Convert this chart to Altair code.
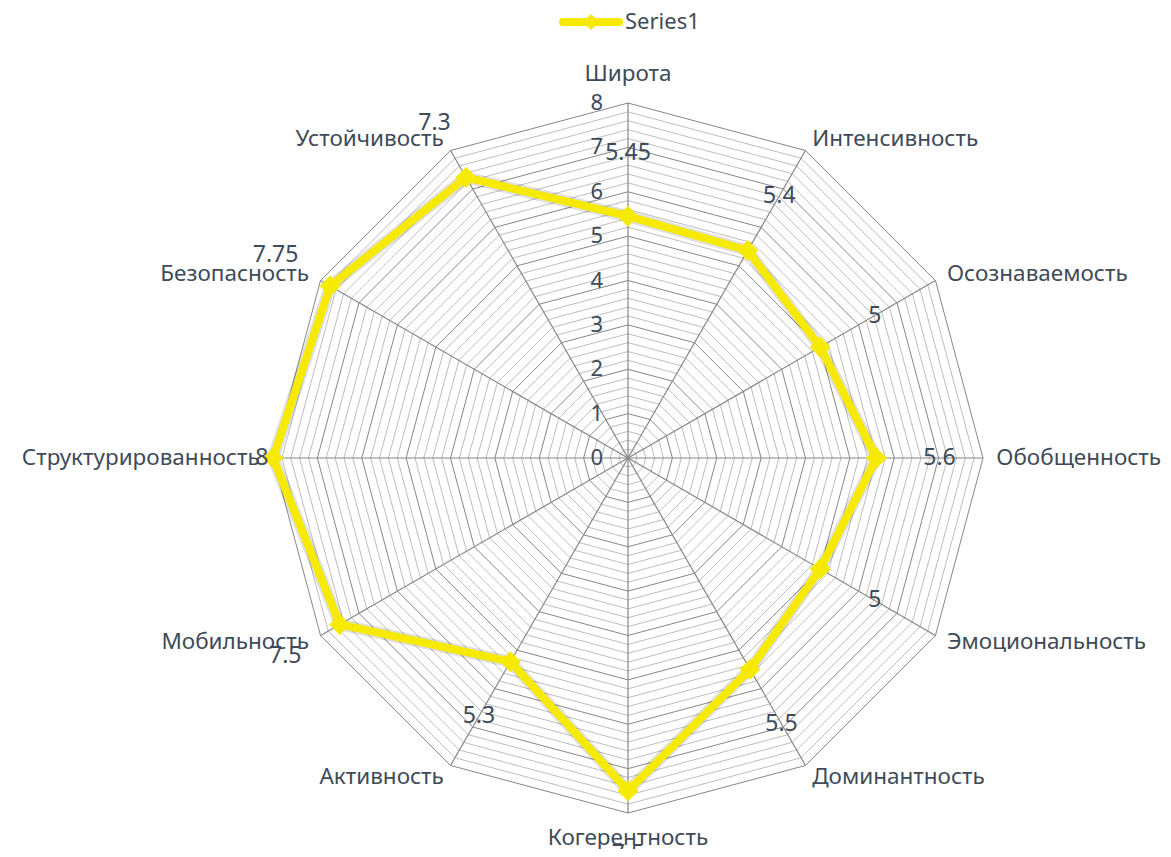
import altair as alt
import pandas as pd
import numpy as np

categories = ["Широта", "Интенсивность", "Осознаваемость", "Обобщенность",
              "Эмоциональность", "Доминантность", "Когерентность", "Активность",
              "Мобильность", "Структурированность", "Безопасность", "Устойчивость"]
values = [5.45, 5.4, 5, 5.6, 5, 5.5, 7.5, 5.3, 7.5, 8, 7.75, 7.3]
value_labels = ["5.45", "5.4", "5", "5.6", "5", "5.5", "7.5", "5.3", "7.5", "8", "7.75", "7.3"]
tick_values = [0, 1, 2, 3, 4, 5, 6, 7, 8]
series_name = "Series1"

AXIS_MAX = 8
STEP = 0.2
N = len(categories)
ang = np.arange(N) * 2 * np.pi / N

W, H = 1155, 841
CX, CY = 620, 450
PPU = 355 / AXIS_MAX
xs = alt.Scale(domain=[-CX / PPU, (W - CX) / PPU], nice=False, zero=False)
ys = alt.Scale(domain=[-(H - CY) / PPU, CY / PPU], nice=False, zero=False)

FONT = "Noto Sans"
TXT = "#404A58"
YEL = "#F6EA00"

# rings
rows = []
levels = np.round(np.arange(STEP, AXIS_MAX + 1e-9, STEP), 4)
for lv in levels:
    major = abs(lv - round(lv)) < 1e-6
    for i in range(N + 1):
        a = ang[i % N]
        rows.append({"x": lv * np.sin(a), "y": lv * np.cos(a), "ring": lv, "o": i, "major": major})
rings = pd.DataFrame(rows)

def X(): return alt.X("x:Q", scale=xs, axis=None)
def Y(): return alt.Y("y:Q", scale=ys, axis=None)

minor_l = alt.Chart(rings[~rings.major]).mark_line(color="#bdbdbd", strokeWidth=1).encode(
    x=X(), y=Y(), detail="ring:N", order="o:Q")
major_l = alt.Chart(rings[rings.major]).mark_line(color="#868686", strokeWidth=1).encode(
    x=X(), y=Y(), detail="ring:N", order="o:Q")

spk = pd.DataFrame({"x": np.zeros(N), "y": np.zeros(N),
                    "x2": AXIS_MAX * np.sin(ang), "y2": AXIS_MAX * np.cos(ang)})
spokes = alt.Chart(spk).mark_rule(color="#868686", strokeWidth=1.2).encode(
    x=X(), y=Y(), x2="x2:Q", y2="y2:Q")

# series
sd = pd.DataFrame({"cat": categories, "v": values, "lab": value_labels,
                   "x": np.array(values) * np.sin(ang), "y": np.array(values) * np.cos(ang),
                   "o": np.arange(N)})
closed = pd.concat([sd, sd.iloc[[0]].assign(o=N)], ignore_index=True)
shadow = alt.Chart(closed).mark_line(color="#000000", opacity=0.12, strokeWidth=12,
                                     strokeJoin="round").encode(x=X(), y=Y(), order="o:Q")
line = alt.Chart(closed).mark_line(color=YEL, strokeWidth=8, strokeJoin="round").encode(
    x=X(), y=Y(), order="o:Q")
pts = alt.Chart(sd).mark_point(shape="diamond", filled=True, size=440, color=YEL, opacity=1).encode(
    x=X(), y=Y())

# data labels
off = 1.42
vals = np.array(values)
lr = np.where(vals >= AXIS_MAX, vals + 0.25, vals + off)
dl = sd.assign(x=lr * np.sin(ang), y=lr * np.cos(ang))
dlabels = alt.Chart(dl).mark_text(font=FONT, fontSize=23, color=TXT, align="center",
                                  baseline="middle").encode(x=X(), y=Y(), text="lab:N")

# category labels
R = AXIS_MAX + 0.3
deg = np.round(np.degrees(ang)).astype(int)
cl = pd.DataFrame({"cat": categories, "x": R * np.sin(ang), "y": R * np.cos(ang), "deg": deg})
def catlayer(df, align, baseline="middle", dy=0):
    return alt.Chart(df).mark_text(font=FONT, fontSize=22.5, color=TXT, align=align,
                                   baseline=baseline, dy=dy).encode(x=X(), y=Y(), text="cat:N")
cat_left = catlayer(cl[(cl.deg > 0) & (cl.deg < 180)], "left")
cat_right = catlayer(cl[cl.deg > 180], "right")
cat_top = catlayer(cl[cl.deg == 0], "center", "bottom", -4)
cat_bot = catlayer(cl[cl.deg == 180], "center", "top", 1)

# tick labels
tk = pd.DataFrame({"t": tick_values, "x": [-0.56] * len(tick_values), "y": tick_values})
ticks = alt.Chart(tk).mark_text(font=FONT, fontSize=22, color=TXT, align="right",
                                baseline="middle").encode(x=X(), y=Y(), text="t:N")

# legend
lg = pd.DataFrame({"s": [series_name]})
leg_line = alt.Chart(lg).mark_rule(color=YEL, strokeWidth=8, strokeCap="round").encode(
    x=alt.value(555), x2=alt.value(611), y=alt.value(14))
leg_pt = alt.Chart(lg).mark_point(shape="diamond", filled=True, size=260, color=YEL, opacity=1).encode(
    x=alt.value(583), y=alt.value(14))
leg_txt = alt.Chart(lg).mark_text(font=FONT, fontSize=22, color=TXT, align="left",
                                  baseline="middle").encode(x=alt.value(617), y=alt.value(14), text="s:N")

chart = alt.layer(minor_l, major_l, spokes, shadow, line, pts, dlabels,
                  cat_left, cat_right, cat_top, cat_bot, ticks,
                  leg_line, leg_pt, leg_txt).properties(
    width=W, height=H, padding=0, autosize=alt.AutoSizeParams(type="none"),
    background="white").configure_view(stroke=None)

chart.save("out.html", embed_options={"renderer": "svg", "actions": False})
